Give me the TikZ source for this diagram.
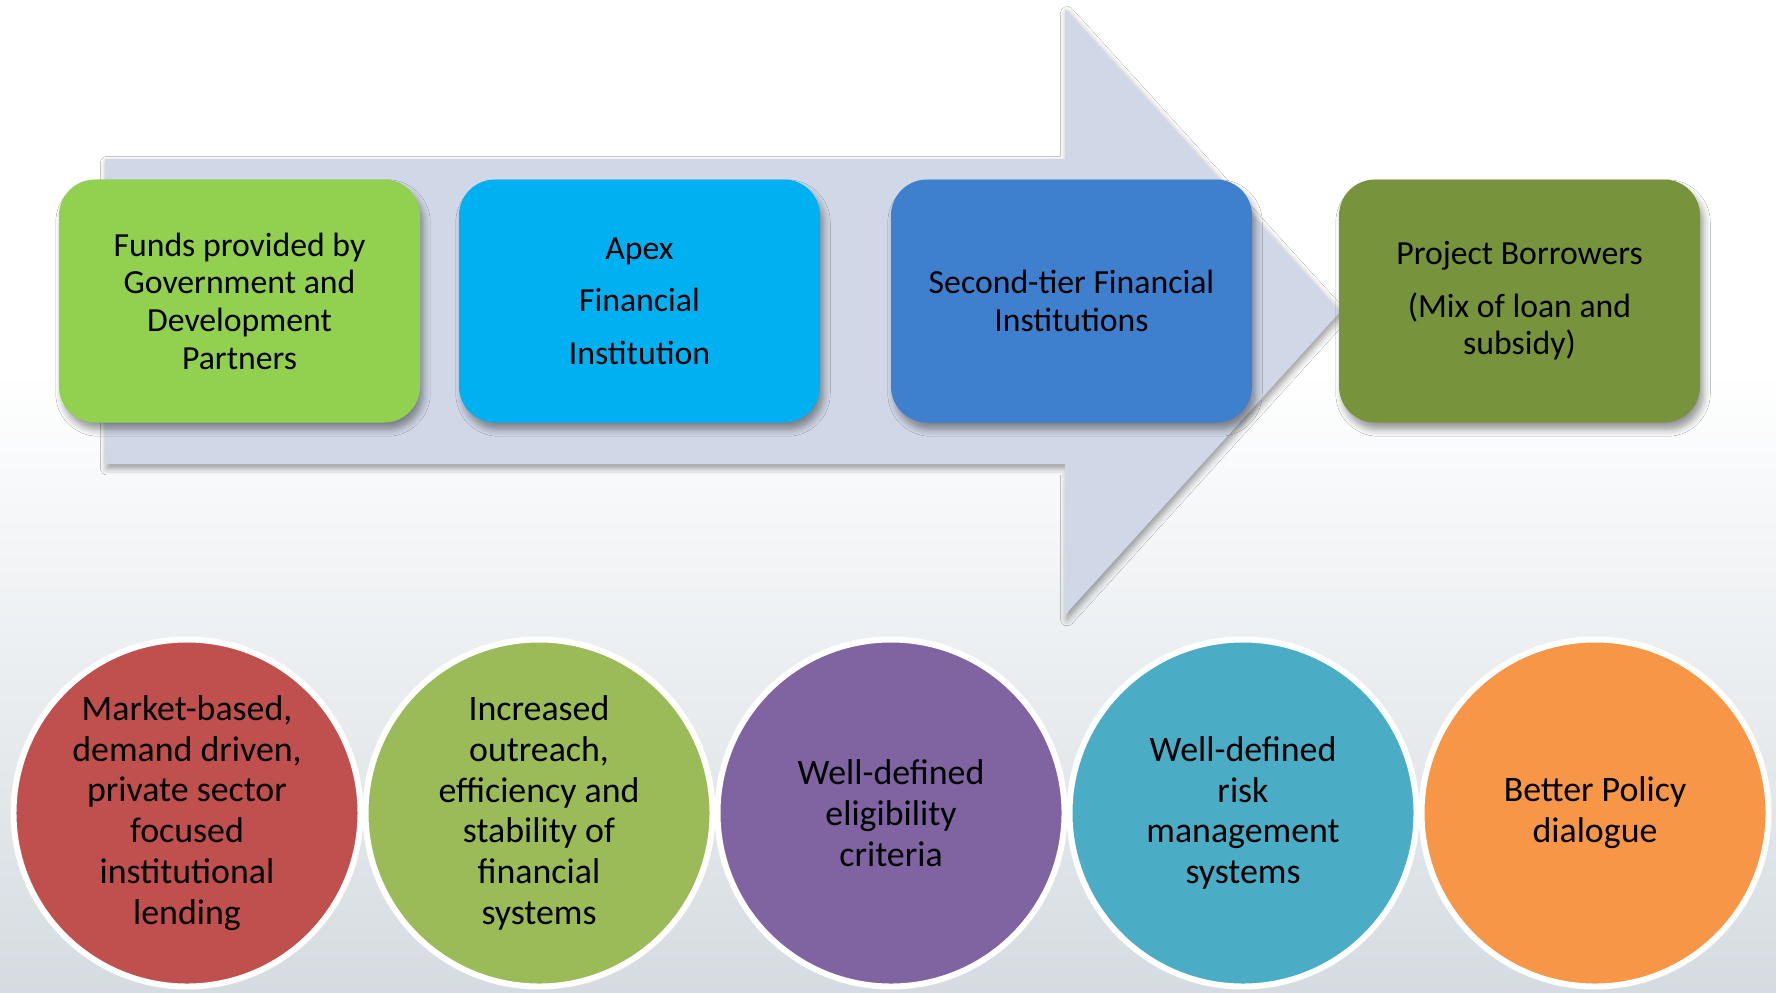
\documentclass[tikz,border=0pt]{standalone}
\usepackage{fontspec}
\setmainfont{Carlito}
\setsansfont{Carlito}
\usetikzlibrary{positioning,shadows,shadows.blur}

\definecolor{bgbottom}{HTML}{D5DCE1}
\definecolor{bgmiddle}{HTML}{E7EBEE}
\definecolor{flowfill}{HTML}{D0D8E7}
\definecolor{fundsgreen}{HTML}{92D050}
\definecolor{apexcyan}{HTML}{00B0F0}
\definecolor{tierblue}{HTML}{3E80CD}
\definecolor{borrowolive}{HTML}{77933C}
\definecolor{aimred}{HTML}{C0504D}
\definecolor{aimgreen}{HTML}{9BBB59}
\definecolor{aimpurple}{HTML}{8064A2}
\definecolor{aimteal}{HTML}{4BACC6}
\definecolor{aimorange}{HTML}{F79646}

\begin{document}
\begin{tikzpicture}[font=\sffamily]
    \tikzstyle{stage}=[rounded corners=0.36cm, minimum width=3.61cm, minimum height=2.43cm, align=center, inner sep=0pt, node distance=4cm, on grid, font=\sffamily\fontsize{9.6}{10.7}\selectfont, blur shadow={shadow xshift=1pt, shadow yshift=-2pt, shadow opacity=40, shadow blur steps=6}]
    \tikzstyle{aim}=[circle, draw=white, line width=1.7pt, minimum size=3.47cm, inner sep=0pt, align=center, node distance=3.52cm, on grid, font=\sffamily\fontsize{10.2}{11.6}\selectfont]

    % background
    \fill[white] (0,0) rectangle (17.76,9.92);
    \shade[top color=white, middle color=bgmiddle, bottom color=bgbottom] (0,0) rectangle (17.76,6.2);
    \useasboundingbox (0,0) rectangle (17.76,9.92);

    % big arrow
    \fill[flowfill, blur shadow={shadow xshift=0.6pt, shadow yshift=-1.2pt, shadow opacity=40, shadow blur steps=4}]
        (1.05,8.33) -- (10.65,8.33) -- (10.65,9.83) -- (13.40,6.80) -- (10.65,3.77) -- (10.65,5.28) -- (1.05,5.28) -- cycle;

    % flow of funds
    \node[stage, fill=fundsgreen] (funds) at (2.395,6.91) {Funds provided by\\Government and\\Development\\Partners};
    \node[stage, fill=apexcyan, right=4cm of funds] (apex) {Apex\\[4.2pt]Financial\\[4.2pt]Institution};
    \node[stage, fill=tierblue, right=4.32cm of apex] (tier) {Second-tier Financial\\Institutions};
    \node[stage, fill=borrowolive, right=4.48cm of tier] (borrowers) {Project Borrowers\\[4.2pt](Mix of loan and\\subsidy)};

    % expected results
    \node[aim, fill=aimred] (market) at (1.87,1.79) {Market-based,\\demand driven,\\private sector\\focused\\institutional\\lending};
    \node[aim, fill=aimgreen, right=of market] (outreach) {Increased\\outreach,\\efficiency and\\stability of\\financial\\systems};
    \node[aim, fill=aimpurple, right=of outreach] (eligible) {Well-defined\\eligibility\\criteria};
    \node[aim, fill=aimteal, right=of eligible] (risk) {Well-defined\\risk\\management\\systems};
    \node[aim, fill=aimorange, right=of risk] (policy) {Better Policy\\dialogue};
\end{tikzpicture}
\end{document}
